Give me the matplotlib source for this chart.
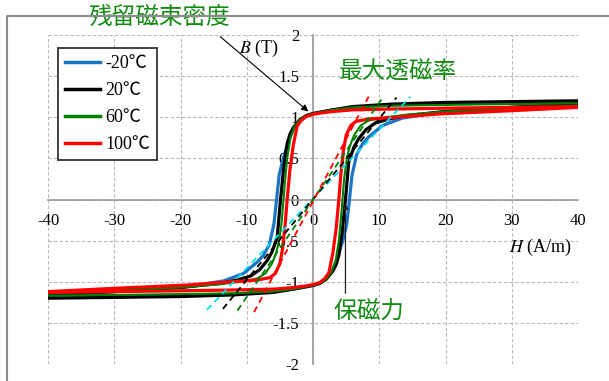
import numpy as np
import matplotlib
matplotlib.use("Agg")
import matplotlib.pyplot as plt
from matplotlib.lines import Line2D

serif = ['Liberation Serif', 'Noto Sans CJK JP', 'DejaVu Sans']
cjk = ['Noto Sans CJK JP', 'DejaVu Sans']

plt.rcParams['font.family'] = serif
plt.rcParams['axes.unicode_minus'] = False
plt.rcParams['mathtext.fontset'] = 'stix'

# descending branch (H from +40 to -40); ascending branch drawn as (-H, -B)
labels = ["-20℃", "20℃", "60℃", "100℃"]
colors = ["#1c74c4", "#000000", "#008000", "#ff0000"]
widths = [2.3, 2.3, 1.5, 2.3]

h_m20 = [40, 30, 20, 12, 6, 3, 1, 0, -1, -2, -3, -3.8, -4.5, -5.1, -5.5,
         -5.9, -6.6, -7.5, -8.4, -10.5, -13.5, -19, -30, -40]
b_m20 = [1.19, 1.18, 1.17, 1.15, 1.12, 1.09, 1.06, 1.045, 1.02, 0.96, 0.85,
         0.68, 0.5, 0.3, 0.0, -0.3, -0.55, -0.68, -0.76, -0.9, -0.99, -1.06,
         -1.12, -1.17]

h_20 = [40, 30, 20, 12, 6, 3, 1, 0, -1, -2, -3, -3.5, -3.9, -4.4, -4.9,
        -5.4, -6.2, -6.9, -8, -9.4, -11.5, -14, -20, -30, -40]
b_20 = [1.2, 1.19, 1.18, 1.16, 1.13, 1.09, 1.06, 1.045, 1.02, 0.97, 0.87,
        0.79, 0.68, 0.4, 0.0, -0.46, -0.64, -0.74, -0.85, -0.93, -0.98,
        -1.02, -1.07, -1.12, -1.16]

h_60 = [40, 30, 20, 12, 6, 3, 1, 0, -1, -2, -2.8, -3.4, -3.9, -4.3, -4.7,
        -5.1, -5.6, -6.2, -7.2, -8.4, -11, -14, -20, -30, -40]
b_60 = [1.17, 1.16, 1.15, 1.14, 1.12, 1.09, 1.06, 1.045, 1.02, 0.97, 0.88,
        0.75, 0.5, 0.15, -0.25, -0.5, -0.66, -0.78, -0.9, -0.96, -1.0, -1.03,
        -1.07, -1.11, -1.14]

h_100 = [40, 30, 20, 12, 6, 3, 1, 0, -1, -1.8, -2.4, -3.0, -3.5, -3.9, -4.2,
         -4.6, -5.0, -5.7, -6.5, -8.5, -12.5, -19, -30, -40]
b_100 = [1.13, 1.12, 1.11, 1.10, 1.09, 1.07, 1.05, 1.035, 1.01, 0.96, 0.89,
         0.65, 0.35, 0.0, -0.3, -0.6, -0.78, -0.9, -0.95, -0.98, -1.0, -1.04,
         -1.08, -1.12]

loops_h = [h_m20, h_20, h_60, h_100]
loops_b = [b_m20, b_20, b_60, b_100]

# max permeability tangent lines (end points)
tan_h = [[-16, 14.7], [-13.6, 12.6], [-11.4, 10.6], [-8.9, 8.4]]
tan_b = [[-1.34, 1.25], [-1.33, 1.24], [-1.35, 1.25], [-1.37, 1.25]]
tan_colors = ["#00e0f0", "#000000", "#008000", "#ff0000"]

xticks = [-40, -30, -20, -10, 0, 10, 20, 30, 40]
yticks = [-2, -1.5, -1, -0.5, 0, 0.5, 1, 1.5, 2]
ytick_labels = ["-2", "-1.5", "-1", "-0.5", "0", "0.5", "1", "1.5", "2"]

label_green = "#108a10"

fig = plt.figure(figsize=[6.09, 3.81], dpi=100)
ax = fig.add_axes([48/609, 17/381, 530/609, 329/381])

for h, b, c, w, lab in zip(loops_h, loops_b, colors, widths, labels):
    h = np.array(h, dtype=float)
    b = np.array(b, dtype=float)
    ax.plot(np.concatenate([h, -h]), np.concatenate([b, -b]), color=c,
            lw=w, label=lab, solid_joinstyle='round', zorder=3)

for th, tb, c in zip(tan_h, tan_b, tan_colors):
    ax.plot(th, tb, color=c, lw=1.3, dashes=(3.5, 2.5), zorder=4)

ax.set_xlim(-40, 40)
ax.set_ylim(-2, 2)
ax.set_xticks(xticks)
ax.set_xticklabels([str(t) for t in xticks])
ax.set_yticks(yticks)
ax.set_yticklabels(ytick_labels)
ax.tick_params(length=0, labelsize=12)
ax.tick_params(axis='x', pad=10)
ax.tick_params(axis='y', pad=10)
ax.grid(True, color='#b8b8b8', lw=0.8, linestyle=(0, (3, 2)))
ax.set_axisbelow(True)
for s in ['top', 'right']:
    ax.spines[s].set_visible(False)
for s in ['left', 'bottom']:
    ax.spines[s].set_position(('data', 0))
    ax.spines[s].set_color('#999999')
    ax.spines[s].set_linewidth(1.2)
    ax.spines[s].set_zorder(2)

ax.text(-5.2, 1.84, "$B$ (T)", ha='right', va='center', fontsize=13)
ax.text(39.1, -0.58, "$H$ (A/m)", ha='right', va='center', fontsize=13)

ax.annotate("", xy=(-0.7, 1.07), xytext=(-14, 1.98),
            arrowprops=dict(arrowstyle='-|>', color='black', lw=0.8,
                            mutation_scale=10, shrinkA=0, shrinkB=0),
            annotation_clip=False, zorder=5)
ax.text(-23.2, 2.2, "残留磁束密度", ha='center', va='center', fontsize=17,
        family=cjk, color=label_green, clip_on=False)
ax.text(12.8, 1.55, "最大透磁率", ha='center', va='center', fontsize=17,
        family=cjk, color=label_green)
ax.annotate("", xy=(4.9, -0.05), xytext=(4.9, -1.14),
            arrowprops=dict(arrowstyle='-|>', color='#222222', lw=0.9,
                            mutation_scale=8, shrinkA=0, shrinkB=0),
            zorder=5)
ax.text(8.4, -1.37, "保磁力", ha='center', va='center', fontsize=17,
        family=cjk, color=label_green)

leg = ax.legend(loc='upper left', bbox_to_anchor=(0.019, 0.96),
                borderaxespad=0, fancybox=False, framealpha=1,
                edgecolor='#333333', handlelength=1.9, handletextpad=0.3,
                labelspacing=0.55, borderpad=0.4, fontsize=13)
leg.get_frame().set_linewidth(1.3)
for line in leg.get_lines():
    line.set_linewidth(2.5)

# outer frame (top and left edges of the original figure box)
fig.add_artist(Line2D([7.3/609, 7.3/609, 1.0], [0, 1 - 15.7/381, 1 - 15.7/381],
                      transform=fig.transFigure, color='#8c8c8c', lw=1.5))

fig.savefig("out.png", dpi=100)
